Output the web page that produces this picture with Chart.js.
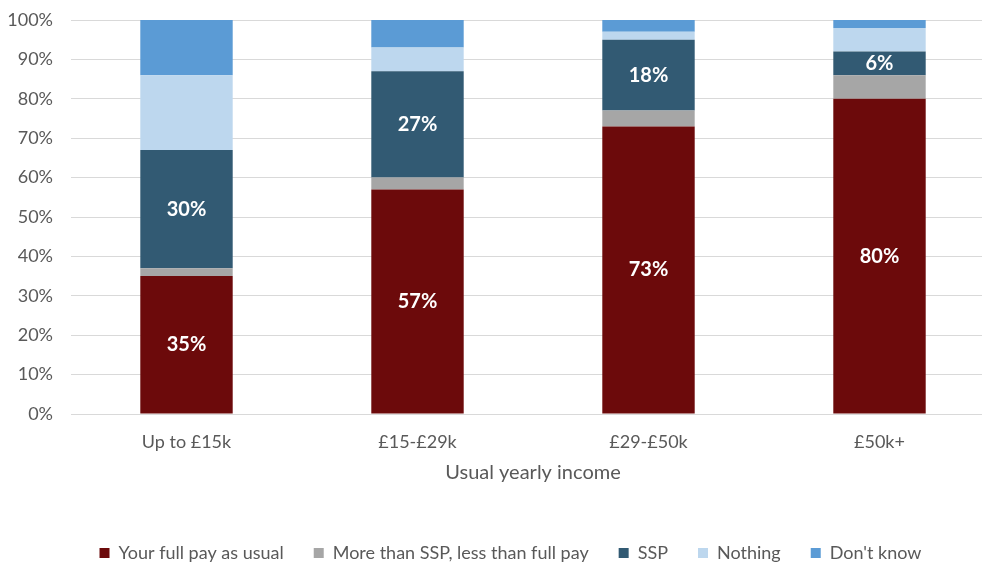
<!DOCTYPE html>
<html>
<head>
<meta charset="utf-8">
<script src="https://cdn.jsdelivr.net/npm/chart.js@4"></script>
<style>
  html, body { margin: 0; padding: 0; background: #fff; overflow: hidden; }
  #wrap { width: 995px; height: 572px; }
</style>
</head>
<body>
<div id="wrap"><canvas id="c" width="995" height="572"></canvas></div>
<script>
// Income bands on the x axis
const categories = ['Up to £15k', '£15-£29k', '£29-£50k', '£50k+'];

// Share of respondents (%) in each income band, stacked to 100
const fullPay      = [35, 57, 73, 80];
const moreThanSSP  = [2, 3, 4, 6];
const ssp          = [30, 27, 18, 6];
const nothing      = [19, 6, 2, 6];
const dontKnow     = [14, 7, 3, 2];

const yTicks = [0, 10, 20, 30, 40, 50, 60, 70, 80, 90, 100];

const FONT = 'Lato, "Open Sans", sans-serif';

// Writes the value inside the segments of the series flagged with showValues
const segmentLabels = {
  id: 'segmentLabels',
  afterDatasetsDraw(chart) {
    const ctx = chart.ctx;
    ctx.save();
    ctx.font = 'bold 20px ' + FONT;
    ctx.fillStyle = '#ffffff';
    ctx.textAlign = 'center';
    ctx.textBaseline = 'middle';
    chart.data.datasets.forEach((ds, i) => {
      if (!ds.showValues) return;
      chart.getDatasetMeta(i).data.forEach((bar, j) => {
        const p = bar.getProps(['x', 'y', 'base'], true);
        ctx.fillText(ds.data[j] + '%', p.x, (p.y + p.base) / 2);
      });
    });
    ctx.restore();
  }
};

// Nudges the legend row to the right so it sits under the middle of the plot
const legendShift = {
  id: 'legendShift',
  afterLayout(chart) {
    if (chart.legend) chart.legend.left += 26;
  }
};

const mk = (label, data, color, showValues) => ({
  label, data, backgroundColor: color, borderWidth: 0,
  barPercentage: 0.4, categoryPercentage: 1.0, showValues
});

new Chart(document.getElementById('c'), {
  type: 'bar',
  data: {
    labels: categories,
    datasets: [
      mk('Your full pay as usual', fullPay, '#6C0A0B', true),
      mk('More than SSP, less than full pay', moreThanSSP, '#A6A6A6', false),
      mk('SSP', ssp, '#325A73', true),
      mk('Nothing', nothing, '#BDD7EE', false),
      mk("Don't know", dontKnow, '#5B9BD5', false)
    ]
  },
  options: {
    responsive: false,
    animation: false,
    layout: { padding: { left: 0, right: 0, top: 20, bottom: 0 } },
    plugins: {
      legend: {
        position: 'bottom',
        labels: {
          font: { family: FONT, size: 18 },
          color: '#595959',
          boxWidth: 10,
          boxHeight: 10,
          padding: 30
        }
      },
      tooltip: { enabled: false }
    },
    scales: {
      x: {
        stacked: true,
        afterFit(axis) { axis.height = 100; },
        grid: { display: false, drawTicks: false },
        border: { color: '#D9D9D9', width: 1 },
        ticks: { font: { family: FONT, size: 18 }, color: '#595959', padding: 17 },
        title: {
          display: true,
          text: 'Usual yearly income',
          font: { family: FONT, size: 20 },
          color: '#595959',
          padding: { top: 8, bottom: 29 }
        }
      },
      y: {
        stacked: true,
        min: 0,
        max: 100,
        afterBuildTicks(axis) { axis.ticks = yTicks.map(v => ({ value: v })); },
        afterFit(axis) {
          axis.width = 71;
          axis.paddingTop = 0;
          axis.paddingBottom = 0;
        },
        grid: { color: '#D9D9D9', drawTicks: false },
        border: { display: false },
        ticks: {
          font: { family: FONT, size: 18 },
          color: '#595959',
          padding: 18,
          callback: v => v + '%'
        }
      }
    }
  },
  plugins: [segmentLabels, legendShift]
});
</script>
</body>
</html>
